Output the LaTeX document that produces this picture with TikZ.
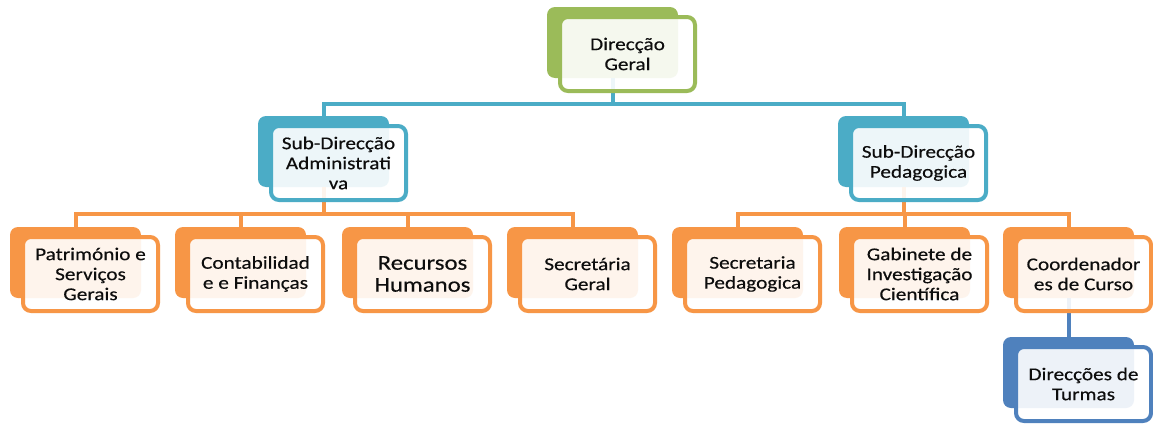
\documentclass[tikz,border=0pt]{standalone}
\usepackage{fontspec}
\setmainfont{Carlito}[FakeStretch=1.18,FakeBold=0.4]
\definecolor{ogreen}{HTML}{9BBB59}
\definecolor{oteal}{HTML}{4BACC6}
\definecolor{oorange}{HTML}{F79646}
\definecolor{oblue}{HTML}{4F81BD}
\definecolor{txt}{HTML}{0D0D0D}
\newcommand\obox[4]{\node[backbox, fill=#4] (#1) at ({#2+65.5},{#3+35.5}) {};}
\newcommand\ofront[5]{\node[frontbox, draw=#4] (#1f) at ({#2+80.5},{#3+47}) {#5};}
\begin{document}
\begin{tikzpicture}[x=1pt,y=-1pt,
  backbox/.style={rectangle, rounded corners=8pt, minimum width=131pt, minimum height=71pt, inner sep=0pt},
  frontbox/.style={rectangle, rounded corners=8pt, minimum width=135pt, minimum height=74pt, inner sep=0pt, line width=4pt, fill=white, fill opacity=0.9, text opacity=1, align=center, font=\fontsize{18}{20}\selectfont, text=txt},
  conn/.style={line width=4pt}]
\fill[white] (0,0) rectangle (1153,423);
\useasboundingbox (0,0) rectangle (1153,423);
% back boxes
\obox{dg}{547}{7}{ogreen}
\obox{sa}{258}{116}{oteal}
\obox{sp}{838}{116}{oteal}
\obox{pa}{10}{227}{oorange}
\obox{cf}{175}{227}{oorange}
\obox{rh}{342}{227}{oorange}
\obox{sg}{507}{227}{oorange}
\obox{spd}{672}{227}{oorange}
\obox{gi}{839}{227}{oorange}
\obox{cc}{1003}{227}{oorange}
\obox{dt}{1003}{337}{oblue}
% junction coordinates
\coordinate (j0) at (612.5,104);
\coordinate (j1) at (323.5,214);
\coordinate (j2) at (903.5,214);
% connectors
\draw[conn, oteal] (dg.south) -- (j0);
\draw[conn, oteal] (j0) -| (sa.north);
\draw[conn, oteal] (j0) -| (sp.north);
\draw[conn, oorange] (sa.south) -- (j1);
\draw[conn, oorange] (j1) -| (pa.north);
\draw[conn, oorange] (j1) -| (cf.north);
\draw[conn, oorange] (j1) -| (rh.north);
\draw[conn, oorange] (j1) -| (sg.north);
\draw[conn, oorange] (sp.south) -- (j2);
\draw[conn, oorange] (j2) -| (spd.north);
\draw[conn, oorange] (j2) -| (gi.north);
\draw[conn, oorange] (j2) -| (cc.north);
\draw[conn, oblue] (cc.south) -- (dt.north);
% front boxes
\ofront{dg}{547}{7}{ogreen}{Direcção\\Geral}
\ofront{sa}{258}{116}{oteal}{Sub-Direcção\\Administrati\\va}
\ofront{sp}{838}{116}{oteal}{Sub-Direcção\\Pedagogica}
\ofront{pa}{10}{227}{oorange}{Património e\\Serviços\\Gerais}
\ofront{cf}{175}{227}{oorange}{Contabilidad\\e e Finanças}
\node[frontbox, draw=oorange, font=\fontsize{21}{22}\selectfont] (rhf) at ({342+80.5},{227+47}) {Recursos\\Humanos};
\ofront{sg}{507}{227}{oorange}{Secretária\\Geral}
\ofront{spd}{672}{227}{oorange}{Secretaria\\Pedagogica}
\ofront{gi}{839}{227}{oorange}{Gabinete de\\Investigação\\Científica}
\ofront{cc}{1003}{227}{oorange}{Coordenador\\es de Curso}
\ofront{dt}{1003}{337}{oblue}{Direcções de\\Turmas}
\end{tikzpicture}
\end{document}
